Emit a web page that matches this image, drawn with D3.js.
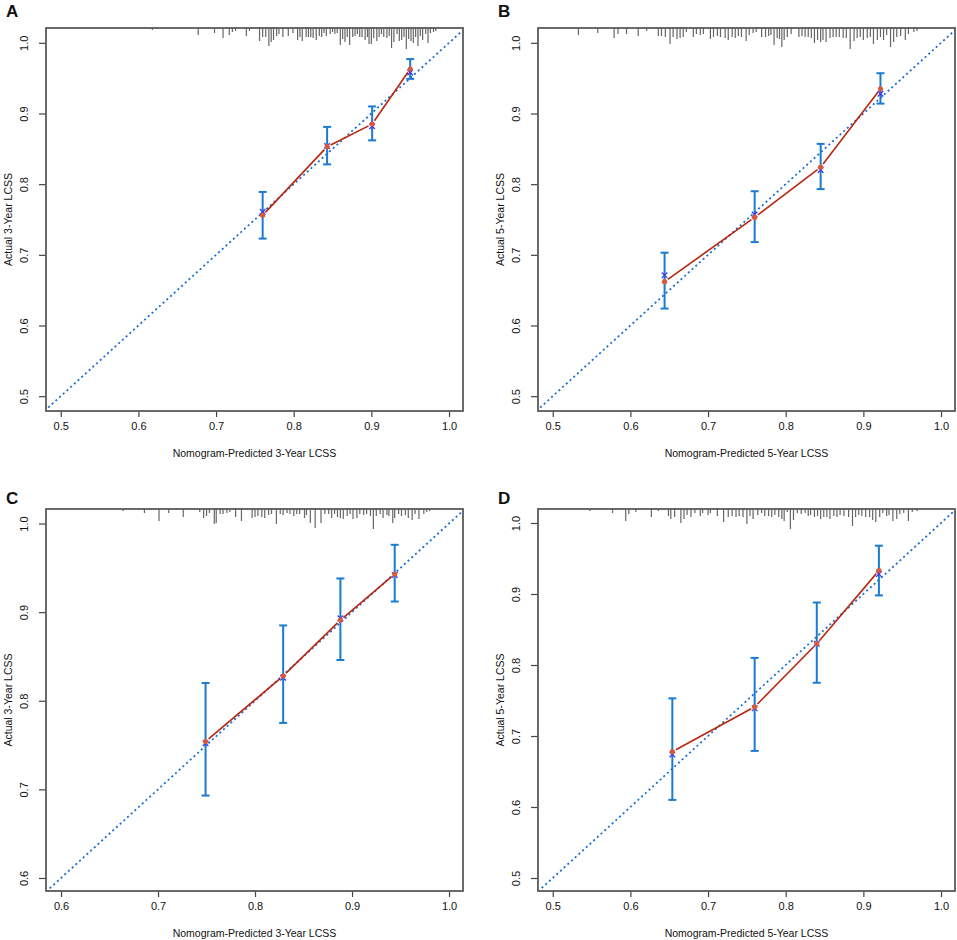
<!DOCTYPE html>
<html>
<head>
<meta charset="utf-8">
<script src="https://cdn.jsdelivr.net/npm/d3@7"></script>
<style>
  body { margin: 0; background: #fff; }
  svg text { font-family: "Liberation Sans", Arial, sans-serif; fill: #111; }
</style>
</head>
<body>
<div id="chart"></div>
<script>
'use strict';

// calibration groups: predicted, observed (KM), CI, bias-corrected
var predA = [0.760, 0.843, 0.901, 0.950],
    obsA  = [0.756, 0.853, 0.885, 0.963],
    loA   = [0.723, 0.828, 0.862, 0.949],
    hiA   = [0.789, 0.881, 0.910, 0.977],
    corrA = [0.761, 0.854, 0.882, 0.958];

var predB = [0.644, 0.760, 0.845, 0.922],
    obsB  = [0.662, 0.753, 0.824, 0.935],
    loB   = [0.624, 0.718, 0.793, 0.914],
    hiB   = [0.703, 0.790, 0.857, 0.957],
    corrB = [0.671, 0.757, 0.820, 0.928];

var predC = [0.749, 0.829, 0.888, 0.944],
    obsC  = [0.754, 0.828, 0.891, 0.943],
    loC   = [0.693, 0.775, 0.846, 0.912],
    hiC   = [0.820, 0.885, 0.938, 0.976],
    corrC = [0.752, 0.826, 0.893, 0.942];

var predD = [0.654, 0.760, 0.840, 0.920],
    obsD  = [0.678, 0.741, 0.830, 0.933],
    loD   = [0.610, 0.679, 0.775, 0.898],
    hiD   = [0.753, 0.810, 0.888, 0.968],
    corrD = [0.674, 0.739, 0.830, 0.928];

// distribution of predicted risk (value, relative frequency)
var rugA = [[0.618,1],[0.677,6],[0.698,4],[0.709,9],[0.717,6],[0.721,3],[0.725,2],[0.739,7],[0.743,2],
  [0.756,12],[0.760,8],[0.764,8],[0.768,17],[0.771,13],[0.774,11],[0.778,7],[0.781,5],[0.786,8],
  [0.793,7],[0.799,4],[0.805,11],[0.808,8],[0.811,12],[0.816,8],[0.819,8],[0.822,8],[0.825,9],[0.829,11],
  [0.833,7],[0.836,8],[0.839,4],[0.842,7],[0.847,5],[0.850,3],[0.853,5],[0.856,4],[0.860,16],[0.863,10],
  [0.866,13],[0.869,8],[0.872,16],[0.876,8],[0.879,7],[0.882,5],[0.885,8],[0.888,8],[0.892,11],[0.895,8],
  [0.897,15],[0.900,15],[0.903,9],[0.907,12],[0.910,8],[0.913,5],[0.916,8],[0.920,9],[0.923,7],[0.926,19],
  [0.929,13],[0.933,5],[0.936,12],[0.939,11],[0.942,8],[0.945,20],[0.948,10],[0.951,12],[0.954,14],[0.957,8],
  [0.960,17],[0.963,7],[0.966,11],[0.970,5],[0.973,14],[0.976,4],[0.980,3],[0.983,2]];

var rugB = [[0.533,6],[0.558,4],[0.579,9],[0.584,5],[0.595,5],[0.610,7],[0.621,2],[0.636,7],[0.640,7],
  [0.645,8],[0.651,15],[0.655,8],[0.660,10],[0.664,9],[0.668,8],[0.672,3],[0.681,8],[0.685,5],[0.690,6],
  [0.694,5],[0.703,10],[0.707,8],[0.712,7],[0.716,8],[0.722,9],[0.726,11],[0.731,8],[0.735,9],[0.739,7],
  [0.743,8],[0.749,12],[0.753,6],[0.758,4],[0.762,3],[0.769,8],[0.774,8],[0.778,7],[0.781,6],[0.785,16],
  [0.789,9],[0.792,10],[0.795,18],[0.798,11],[0.802,8],[0.807,5],[0.817,8],[0.821,7],[0.825,8],[0.829,8],
  [0.833,9],[0.837,14],[0.841,11],[0.845,13],[0.848,11],[0.852,13],[0.857,9],[0.861,8],[0.865,8],[0.869,8],
  [0.874,9],[0.878,9],[0.883,20],[0.888,12],[0.892,9],[0.896,8],[0.900,11],[0.905,9],[0.909,8],[0.913,15],
  [0.918,11],[0.922,8],[0.926,11],[0.930,6],[0.935,18],[0.939,13],[0.943,8],[0.948,7],[0.954,11],[0.958,5],
  [0.965,3],[0.969,2]];

var rugC = [[0.664,1],[0.686,3],[0.701,11],[0.711,3],[0.726,7],[0.743,2],[0.747,8],[0.750,6],[0.753,3],
  [0.758,14],[0.760,13],[0.764,4],[0.767,4],[0.771,3],[0.774,2],[0.780,7],[0.786,11],[0.797,8],[0.800,7],
  [0.803,6],[0.807,7],[0.810,8],[0.814,5],[0.817,4],[0.822,14],[0.826,4],[0.829,5],[0.833,3],[0.836,4],
  [0.840,6],[0.843,4],[0.846,4],[0.851,8],[0.853,5],[0.857,13],[0.862,18],[0.868,13],[0.872,4],[0.876,4],
  [0.879,8],[0.882,4],[0.885,7],[0.888,8],[0.891,9],[0.895,6],[0.898,4],[0.901,9],[0.905,8],[0.908,4],
  [0.912,5],[0.915,4],[0.919,6],[0.922,19],[0.925,6],[0.929,4],[0.932,8],[0.936,5],[0.938,6],[0.942,13],
  [0.944,8],[0.948,4],[0.951,6],[0.955,5],[0.958,8],[0.962,10],[0.965,4],[0.969,9],[0.974,4],[0.977,2],
  [0.980,1]];

var rugD = [[0.548,1],[0.577,3],[0.594,11],[0.598,4],[0.607,2],[0.627,7],[0.636,1],[0.649,6],[0.652,9],
  [0.657,7],[0.665,13],[0.669,9],[0.673,5],[0.678,7],[0.683,3],[0.690,6],[0.693,3],[0.700,5],[0.703,3],
  [0.712,6],[0.720,12],[0.726,7],[0.731,6],[0.736,7],[0.740,6],[0.745,7],[0.750,14],[0.754,6],[0.758,9],
  [0.764,5],[0.769,3],[0.773,6],[0.778,6],[0.782,7],[0.786,5],[0.791,7],[0.795,9],[0.798,11],[0.802,2],
  [0.806,19],[0.810,10],[0.815,3],[0.820,4],[0.825,3],[0.829,6],[0.832,5],[0.837,7],[0.841,6],[0.845,9],
  [0.849,7],[0.853,7],[0.857,9],[0.862,6],[0.866,7],[0.870,5],[0.875,6],[0.881,7],[0.886,16],[0.890,7],
  [0.894,5],[0.898,6],[0.903,7],[0.908,7],[0.912,10],[0.916,12],[0.921,7],[0.925,3],[0.930,6],[0.933,5],
  [0.938,11],[0.943,9],[0.947,4],[0.952,3],[0.958,11],[0.963,2],[0.969,1]];

// axis limits and ticks
var ticks50 = [0.5, 0.6, 0.7, 0.8, 0.9, 1.0],
    ticks60 = [0.6, 0.7, 0.8, 0.9, 1.0];
var xlim50 = [0.481, 1.018], ylim50 = [0.479, 1.021], ylimD = [0.4817, 1.0197],
    lim60x = [0.5845, 1.0144], lim60y = [0.5853, 1.0164];

var panels = [
  {id: 'A', col: 0, row: 0, pred: predA, obs: obsA, lo: loA, hi: hiA, corr: corrA, rug: rugA,
   xlim: xlim50, ylim: ylim50, ticks: ticks50, yr: '3'},
  {id: 'B', col: 1, row: 0, pred: predB, obs: obsB, lo: loB, hi: hiB, corr: corrB, rug: rugB,
   xlim: xlim50, ylim: ylim50, ticks: ticks50, yr: '5'},
  {id: 'C', col: 0, row: 1, pred: predC, obs: obsC, lo: loC, hi: hiC, corr: corrC, rug: rugC,
   xlim: lim60x, ylim: lim60y, ticks: ticks60, yr: '3'},
  {id: 'D', col: 1, row: 1, pred: predD, obs: obsD, lo: loD, hi: hiD, corr: corrD, rug: rugD,
   xlim: xlim50, ylim: ylimD, ticks: ticks50, yr: '5'}
];

var W = 957, H = 940;
var colX = [46, 538], rowY = [28, 509],
    boxW = 417, boxH = [383, 382],
    letterY = [-11, -5];

var svg = d3.select('#chart').append('svg')
    .attr('width', W)
    .attr('height', H);

var fmt = d3.format('.1f');
var rugLen = d3.scaleLinear().domain([0, 20]).range([0, 20]);

panels.forEach(function(p) {
  var bh = boxH[p.row];
  var g = svg.append('g')
      .attr('transform', 'translate(' + colX[p.col] + ',' + rowY[p.row] + ')');

  var x = d3.scaleLinear().domain(p.xlim).range([0, boxW]),
      y = d3.scaleLinear().domain(p.ylim).range([bh, 0]);

  var clipId = 'clip' + p.id;
  g.append('clipPath').attr('id', clipId)
    .append('rect').attr('width', boxW).attr('height', bh);

  // axes
  var xAxis = d3.axisBottom(x).tickValues(p.ticks).tickFormat(fmt).tickSize(6).tickPadding(5);
  var yAxis = d3.axisLeft(y).tickValues(p.ticks).tickFormat(fmt).tickSize(7).tickPadding(5);

  var gx = g.append('g').attr('transform', 'translate(0,' + bh + ')').call(xAxis);
  var gy = g.append('g').call(yAxis);
  [gx, gy].forEach(function(a) {
    a.select('.domain').remove();
    a.selectAll('line').attr('stroke', '#444').attr('stroke-width', 1.2);
    a.selectAll('text').style('font-size', '11px').attr('fill', '#111');
  });
  gy.selectAll('text')
    .attr('x', null).attr('dy', null)
    .attr('text-anchor', 'middle')
    .attr('transform', 'translate(-18,0) rotate(-90)');

  // rug of predicted risk
  g.append('g').attr('clip-path', 'url(#' + clipId + ')')
    .selectAll('line').data(p.rug).join('line')
      .attr('x1', function(d) { return x(d[0]); })
      .attr('x2', function(d) { return x(d[0]); })
      .attr('y1', 0)
      .attr('y2', function(d) { return rugLen(d[1]) + 1; })
      .attr('stroke', '#666')
      .attr('stroke-width', 1.2);

  // ideal line
  var lo = Math.min(p.xlim[0], p.ylim[0]), hi = Math.max(p.xlim[1], p.ylim[1]);
  g.append('line').attr('clip-path', 'url(#' + clipId + ')')
    .attr('x1', x(lo)).attr('y1', y(lo))
    .attr('x2', x(hi)).attr('y2', y(hi))
    .attr('stroke', '#1a6fd0')
    .attr('stroke-width', 1.8)
    .attr('stroke-dasharray', '2,3');

  var idx = d3.range(p.pred.length);

  // error bars
  var eb = g.append('g').attr('stroke', '#1b7bd0').attr('stroke-width', 2);
  eb.selectAll('.v').data(idx).join('line').attr('class', 'v')
    .attr('x1', function(i) { return x(p.pred[i]); })
    .attr('x2', function(i) { return x(p.pred[i]); })
    .attr('y1', function(i) { return y(p.lo[i]); })
    .attr('y2', function(i) { return y(p.hi[i]); });
  ['lo', 'hi'].forEach(function(k) {
    eb.selectAll('.c' + k).data(idx).join('line').attr('class', 'c' + k)
      .attr('x1', function(i) { return x(p.pred[i]) - 4; })
      .attr('x2', function(i) { return x(p.pred[i]) + 4; })
      .attr('y1', function(i) { return y(p[k][i]); })
      .attr('y2', function(i) { return y(p[k][i]); });
  });

  // observed line, type "b" (gaps around points)
  var segs = d3.pairs(idx).map(function(pr) {
    var x1 = x(p.pred[pr[0]]), y1 = y(p.obs[pr[0]]),
        x2 = x(p.pred[pr[1]]), y2 = y(p.obs[pr[1]]);
    var len = Math.hypot(x2 - x1, y2 - y1), gap = 4;
    var ux = (x2 - x1) / len, uy = (y2 - y1) / len;
    return [x1 + ux * gap, y1 + uy * gap, x2 - ux * gap, y2 - uy * gap];
  });
  g.append('g').selectAll('line').data(segs).join('line')
    .attr('x1', function(d) { return d[0]; })
    .attr('y1', function(d) { return d[1]; })
    .attr('x2', function(d) { return d[2]; })
    .attr('y2', function(d) { return d[3]; })
    .attr('stroke', '#b8260f')
    .attr('stroke-width', 1.6);

  // bias-corrected estimates (x)
  var sym = d3.symbol().type(d3.symbolX).size(22);
  g.append('g').selectAll('path').data(idx).join('path')
    .attr('d', sym)
    .attr('transform', function(i) { return 'translate(' + x(p.pred[i]) + ',' + y(p.corr[i]) + ')'; })
    .attr('stroke', '#3a3af0')
    .attr('stroke-width', 1.3)
    .attr('fill', 'none');

  // observed points
  g.append('g').selectAll('circle').data(idx).join('circle')
    .attr('cx', function(i) { return x(p.pred[i]); })
    .attr('cy', function(i) { return y(p.obs[i]); })
    .attr('r', 2.6)
    .attr('fill', '#d9593a');

  // box
  g.append('rect')
    .attr('width', boxW).attr('height', bh)
    .attr('fill', 'none')
    .attr('stroke', '#5a5a5a')
    .attr('stroke-width', 1.8);

  // titles
  g.append('text')
    .attr('x', boxW / 2).attr('y', bh + 46)
    .attr('text-anchor', 'middle')
    .style('font-size', '10.5px')
    .text('Nomogram-Predicted ' + p.yr + '-Year LCSS');

  g.append('text')
    .attr('transform', 'translate(-34,' + (bh / 2) + ') rotate(-90)')
    .attr('text-anchor', 'middle')
    .style('font-size', '10.5px')
    .text('Actual ' + p.yr + '-Year LCSS');

  g.append('text')
    .attr('x', -40).attr('y', letterY[p.row])
    .style('font-size', '17px')
    .style('font-weight', 'bold')
    .text(p.id);
});
</script>
</body>
</html>
